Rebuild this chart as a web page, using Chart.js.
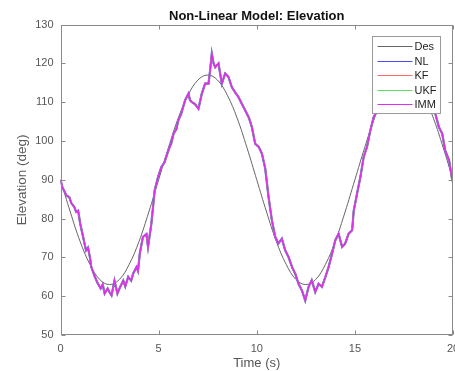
<!DOCTYPE html>
<html>
<head>
<meta charset="utf-8">
<script src="https://cdn.jsdelivr.net/npm/chart.js@4.4.1/dist/chart.umd.min.js"></script>
<style>
  html, body { margin: 0; padding: 0; background: #fff; }
</style>
</head>
<body>
<canvas id="elev-chart" width="455" height="371"></canvas>
<script>
// desired trajectory, every 0.5 s
const desTime = [0, 0.5, 1, 1.5, 2, 2.5, 3, 3.5, 4, 4.5, 5, 5.5, 6, 6.5, 7, 7.5, 8, 8.5, 9, 9.5,
  10, 10.5, 11, 11.5, 12, 12.5, 13, 13.5, 14, 14.5, 15, 15.5, 16, 16.5, 17, 17.5, 18, 18.5, 19, 19.5, 20];
const desElev = [90, 81.7, 74.1, 68.2, 64.3, 63, 64.3, 68.2, 74.1, 81.7, 90, 98.3, 105.9, 111.8, 115.7, 117, 115.7, 111.8, 105.9, 98.3,
  90, 81.7, 74.1, 68.2, 64.3, 63, 64.3, 68.2, 74.1, 81.7, 90, 98.3, 105.9, 111.8, 115.7, 117, 115.7, 111.8, 105.9, 98.3, 90];

// estimated (noisy) elevation; NL / KF / UKF / IMM sit on top of each other
const measTime = [
  0, 0.1, 0.3, 0.45, 0.55, 0.7, 0.8, 0.9, 1.0, 1.15, 1.3, 1.4, 1.5, 1.57, 1.75, 1.9,
  2.05, 2.15, 2.25, 2.4, 2.5, 2.6, 2.75, 2.9, 3.05, 3.2, 3.3, 3.45, 3.6, 3.7, 3.87, 3.95,
  4.04, 4.2, 4.38, 4.46, 4.63, 4.8, 4.97, 5.14, 5.3, 5.5, 5.65, 5.76, 5.9, 6.0, 6.15, 6.35,
  6.52, 6.6, 6.7, 6.85, 7.03, 7.2, 7.37, 7.54, 7.62, 7.71, 7.8, 7.88, 8.05, 8.22, 8.39, 8.56,
  8.73, 8.9, 9.07, 9.25, 9.41, 9.6, 9.75, 9.92, 10.1, 10.26, 10.43, 10.6, 10.77, 10.94, 11.1, 11.28,
  11.45, 11.62, 11.8, 11.96, 12.13, 12.3, 12.47, 12.64, 12.8, 12.98, 13.15, 13.32, 13.5, 13.66, 13.84, 14.0,
  14.17, 14.35, 14.5, 14.68, 14.86, 14.94, 15.11, 15.28, 15.45, 15.62, 15.79, 15.96, 16.05, 16.3, 16.6, 17.0,
  17.5, 18.0, 18.5, 18.9, 19.1, 19.28, 19.45, 19.6, 19.8, 19.96, 20];
const measElev = [
  90, 88, 86, 85.5, 84, 83, 81.7, 82, 78.8, 75.3, 71.8, 72.5, 70, 67.5, 65, 63.3,
  62, 63, 60.7, 62, 61, 60.2, 64, 60.7, 62.5, 64, 62.5, 65, 64, 65.8, 67.5, 66.5,
  71, 75.3, 76, 72.7, 78.7, 87.3, 90.7, 93.3, 94.5, 97.6, 99.5, 101.9, 103, 105.3, 107, 110.5,
  112.2, 110.5, 110, 109.5, 108.3, 112.2, 114.8, 114.8, 118, 122.5, 120, 119, 120, 114.8, 117.4, 116.5,
  113.9, 112.5, 111.3, 109.5, 107.9, 106, 103.6, 99.3, 98.5, 96.8, 93, 85.6, 79.6, 75.3, 73.6, 74.8,
  71.8, 70.1, 67.5, 65.8, 63.2, 61.5, 58.9, 62.4, 64.1, 61.1, 63.2, 62.4, 65, 67.5, 71, 74.4,
  76.1, 72.7, 73.5, 76.1, 77, 82, 86.4, 90.7, 95.9, 98.5, 102.8, 106.2, 107, 111, 114, 117,
  119, 118, 114, 109, 107, 103.6, 101.9, 97.6, 95, 89.9, 89.5];

const seriesNames = ['Des', 'NL', 'KF', 'UKF', 'IMM'];
const seriesColors = ['#666666', '#4a4aff', '#ff6a6a', '#60e060', '#e02cf0'];
const xTicks = [0, 5, 10, 15, 20];
const yTicks = [50, 60, 70, 80, 90, 100, 110, 120, 130];

const FONT = '"Liberation Sans", Arial, sans-serif';
const AXIS = '#8a8a8a';

function pts(xs, ys) {
  return xs.map((x, i) => ({ x: x, y: ys[i] }));
}

// MATLAB-style box with inward ticks, plus the boxed legend inside the axes
const boxPlugin = {
  id: 'matlabBox',
  afterDatasetsDraw(chart) {
    const c = chart.ctx;
    const a = chart.chartArea;
    const xs = chart.scales.x, ys = chart.scales.y;
    const L = Math.round(a.left) + 0.5, R = Math.round(a.right) - 0.5;
    const T = Math.round(a.top) + 0.5, B = Math.round(a.bottom) - 0.5;
    c.save();
    c.strokeStyle = AXIS;
    c.lineWidth = 1;
    c.strokeRect(L, T, R - L, B - T);
    c.beginPath();
    xTicks.forEach((v) => {
      const px = Math.round(xs.getPixelForValue(v)) + 0.5;
      c.moveTo(px, B); c.lineTo(px, B - 4);
      c.moveTo(px, T); c.lineTo(px, T + 4);
    });
    yTicks.forEach((v) => {
      const py = Math.round(ys.getPixelForValue(v)) + 0.5;
      c.moveTo(L, py); c.lineTo(L + 4, py);
      c.moveTo(R, py); c.lineTo(R - 4, py);
    });
    c.stroke();

    // legend
    const lx = Math.round(a.right) - 80.5, ly = Math.round(a.top) + 11.5;
    const lw = 68, lh = 77;
    c.fillStyle = '#fff';
    c.fillRect(lx, ly, lw, lh);
    c.strokeStyle = '#9a9a9a';
    c.strokeRect(lx, ly, lw, lh);
    c.font = '11px ' + FONT;
    c.textBaseline = 'middle';
    c.textAlign = 'left';
    seriesNames.forEach((name, i) => {
      const y = Math.round(ly + 9.5 + i * 14.5) + 0.5;
      c.strokeStyle = seriesColors[i];
      c.lineWidth = 1;
      c.beginPath();
      c.moveTo(lx + 5, y); c.lineTo(lx + 40, y);
      c.stroke();
      c.fillStyle = '#222';
      c.fillText(name, lx + 42, y);
    });
    c.restore();
  },
};

const datasets = seriesNames.map((name, i) => {
  const isDes = i === 0;
  return {
    label: name,
    data: isDes ? pts(desTime, desElev) : pts(measTime, measElev),
    borderColor: seriesColors[i],
    backgroundColor: seriesColors[i],
    borderWidth: isDes ? 1 : (name === 'NL' ? 2.2 : 1.5),
    pointRadius: 0,
    tension: isDes ? 0.4 : 0,
    order: seriesNames.length - i,
  };
});

new Chart(document.getElementById('elev-chart').getContext('2d'), {
  type: 'line',
  data: { datasets: datasets },
  options: {
    responsive: false,
    devicePixelRatio: 1,
    animation: false,
    layout: { padding: { left: 0, right: 2, top: 0, bottom: 0 } },
    scales: {
      x: {
        type: 'linear',
        min: 0,
        max: 20,
        grid: { display: false, drawTicks: false },
        border: { display: false },
        ticks: {
          stepSize: 5, padding: 7, color: '#555', maxRotation: 0,
          font: { family: FONT, size: 11 },
        },
        title: {
          display: true, text: 'Time (s)', color: '#555',
          font: { family: FONT, size: 13 }, padding: { top: 0, bottom: 0 },
        },
        afterFit: (s) => { s.height = 36; s.paddingLeft = 0; s.paddingRight = 0; },
      },
      y: {
        type: 'linear',
        min: 50,
        max: 130,
        grid: { display: false, drawTicks: false },
        border: { display: false },
        ticks: {
          stepSize: 10, padding: 7, color: '#555',
          font: { family: FONT, size: 11 },
        },
        title: {
          display: true, text: 'Elevation (deg)', color: '#5a5a5a',
          font: { family: FONT, size: 13.5 }, padding: { top: 14, bottom: 0 },
        },
        afterFit: (s) => { s.width = 60.5; s.paddingTop = 0; s.paddingBottom = 0; },
      },
    },
    plugins: {
      legend: { display: false },
      tooltip: { enabled: false },
      title: {
        display: true,
        text: 'Non-Linear Model: Elevation',
        color: '#111',
        fullSize: false,
        font: { family: FONT, size: 13, weight: 'bold' },
        padding: { top: 9, bottom: 0 },
      },
    },
  },
  plugins: [boxPlugin],
});
</script>
</body>
</html>
